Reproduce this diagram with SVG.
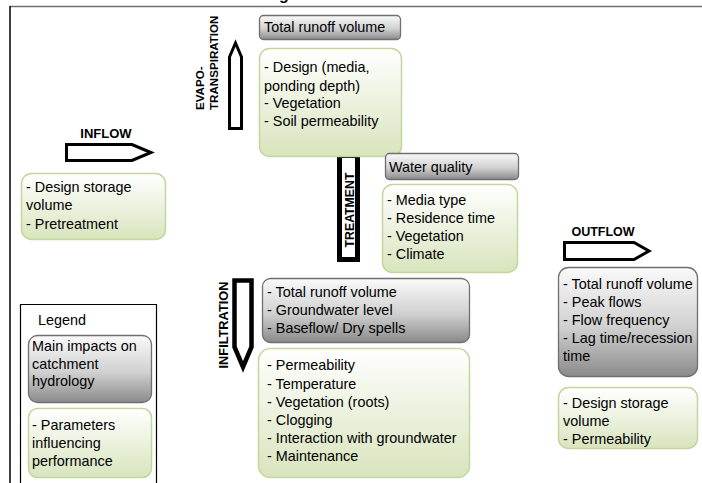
<svg xmlns="http://www.w3.org/2000/svg" width="702" height="483" viewBox="0 0 702 483">
  <defs>
    <linearGradient id="greyFill" x1="0" y1="0" x2="0" y2="1">
      <stop offset="0" stop-color="#fafafa"/>
      <stop offset="0.55" stop-color="#d0d0d0"/>
      <stop offset="1" stop-color="#8a8a8a"/>
    </linearGradient>
    <linearGradient id="greenFill" x1="0" y1="0" x2="0" y2="1">
      <stop offset="0" stop-color="#ffffff"/>
      <stop offset="1" stop-color="#d8e4bd"/>
    </linearGradient>
  </defs>
  <style>
    .grey { fill: url(#greyFill); stroke: #6f6f6f; stroke-width: 1.3; }
    .green { fill: url(#greenFill); stroke: #c3d69b; stroke-width: 1.5; }
    .txt { font-family: "Liberation Sans", Arial, sans-serif; font-size: 14.4px; fill: #000; }
    .lbl { font-family: "Liberation Sans", Arial, sans-serif; font-weight: bold; fill: #000; }
    .arrow { fill: #fff; stroke: #000; stroke-linejoin: miter; }
  </style>

  <rect width="702" height="483" fill="#fff"/>

  <!-- page frame -->
  <text class="lbl" x="279" y="-0.5" font-size="16">g</text>
  <line x1="10" y1="6.5" x2="702" y2="6.5" stroke="#707070" stroke-width="1.5"/>
  <line x1="10" y1="6" x2="10" y2="483" stroke="#000" stroke-width="1.5"/>

  <!-- flow arrows -->
  <g id="connectors">
    <path class="arrow" stroke-width="3" d="M229.5,128.5 L229.5,57 L235.5,43 L241.5,57 L241.5,128.5 Z"/>
    <path class="arrow" stroke-width="3" d="M66.5,144.5 L132,144.5 L151,152.5 L132,160.5 L66.5,160.5 Z"/>
    <path class="arrow" stroke-width="3" d="M564.5,242.5 L634,242.5 L649,251 L634,259.5 L564.5,259.5 Z"/>
    <path class="arrow" stroke-width="4.5" d="M234.5,280.5 L251.5,280.5 L251.5,347 L243,367 L234.5,347 Z"/>
    <rect x="339.5" y="155.5" width="18" height="104" fill="#fff" stroke="#000" stroke-width="5"/>
  </g>

  <!-- evapotranspiration -->
  <g id="evapotranspiration">
    <text class="lbl" font-size="11.6" transform="translate(204,110) rotate(-90)">EVAPO-</text>
    <text class="lbl" font-size="11.6" transform="translate(218,110) rotate(-90)">TRANSPIRATION</text>
    <rect class="grey" x="259.5" y="15.5" width="141" height="24" rx="4"/>
    <text class="txt" x="264" y="32">Total runoff volume</text>
    <rect class="green" x="259.5" y="48.5" width="142" height="108" rx="10"/>
    <text class="txt" x="264" y="72">- Design (media,</text>
    <text class="txt" x="264" y="91">ponding depth)</text>
    <text class="txt" x="264" y="108">- Vegetation</text>
    <text class="txt" x="264" y="126">- Soil permeability</text>
  </g>

  <!-- inflow -->
  <g id="inflow">
    <text class="lbl" font-size="13" x="106" y="138" text-anchor="middle">INFLOW</text>
    <rect class="green" x="21.5" y="173.5" width="144" height="66" rx="10"/>
    <text class="txt" x="26" y="192">- Design storage</text>
    <text class="txt" x="26" y="210">volume</text>
    <text class="txt" x="26" y="229">- Pretreatment</text>
  </g>

  <!-- treatment -->
  <g id="treatment">
    <text class="lbl" font-size="12.3" transform="translate(354,210) rotate(-90)" text-anchor="middle">TREATMENT</text>
    <rect class="grey" x="385.5" y="153.5" width="133" height="26" rx="4"/>
    <text class="txt" x="389" y="172">Water quality</text>
    <rect class="green" x="382.5" y="184.5" width="135" height="88" rx="10"/>
    <text class="txt" x="387" y="205">- Media type</text>
    <text class="txt" x="387" y="223">- Residence time</text>
    <text class="txt" x="387" y="241">- Vegetation</text>
    <text class="txt" x="387" y="259">- Climate</text>
  </g>

  <!-- outflow -->
  <g id="outflow">
    <text class="lbl" font-size="12.5" x="603" y="236" text-anchor="middle">OUTFLOW</text>
    <rect class="grey" x="558.5" y="267.5" width="139" height="109" rx="10"/>
    <text class="txt" x="563" y="289">- Total runoff volume</text>
    <text class="txt" x="563" y="307">- Peak flows</text>
    <text class="txt" x="563" y="325">- Flow frequency</text>
    <text class="txt" x="563" y="343">- Lag time/recession</text>
    <text class="txt" x="563" y="361">time</text>
    <rect class="green" x="558.5" y="387.5" width="139" height="61" rx="10"/>
    <text class="txt" x="563" y="408">- Design storage</text>
    <text class="txt" x="563" y="426">volume</text>
    <text class="txt" x="563" y="444">- Permeability</text>
  </g>

  <!-- infiltration -->
  <g id="infiltration">
    <text class="lbl" font-size="12.8" transform="translate(228,325) rotate(-90)" text-anchor="middle">INFILTRATION</text>
    <rect class="grey" x="262.5" y="278.5" width="207" height="64" rx="8"/>
    <text class="txt" x="267" y="297">- Total runoff volume</text>
    <text class="txt" x="267" y="315">- Groundwater level</text>
    <text class="txt" x="267" y="333">- Baseflow/ Dry spells</text>
    <rect class="green" x="258.5" y="348.5" width="211" height="129" rx="12"/>
    <text class="txt" x="267" y="370">- Permeability</text>
    <text class="txt" x="267" y="389">- Temperature</text>
    <text class="txt" x="267" y="407">- Vegetation (roots)</text>
    <text class="txt" x="267" y="425">- Clogging</text>
    <text class="txt" x="267" y="443">- Interaction with groundwater</text>
    <text class="txt" x="267" y="461">- Maintenance</text>
  </g>

  <!-- legend -->
  <g id="legend">
    <path d="M20.5,483 L20.5,304.5 L156.5,304.5 L156.5,483" fill="none" stroke="#000" stroke-width="1.2"/>
    <text class="txt" x="38" y="325">Legend</text>
    <rect class="grey" x="28.5" y="335.5" width="123" height="67" rx="9"/>
    <text class="txt" x="32" y="351">Main impacts on</text>
    <text class="txt" x="32" y="369">catchment</text>
    <text class="txt" x="32" y="386">hydrology</text>
    <rect class="green" x="28.5" y="408.5" width="123" height="69" rx="9"/>
    <text class="txt" x="32" y="430">- Parameters</text>
    <text class="txt" x="32" y="448">influencing</text>
    <text class="txt" x="32" y="466">performance</text>
  </g>
</svg>
